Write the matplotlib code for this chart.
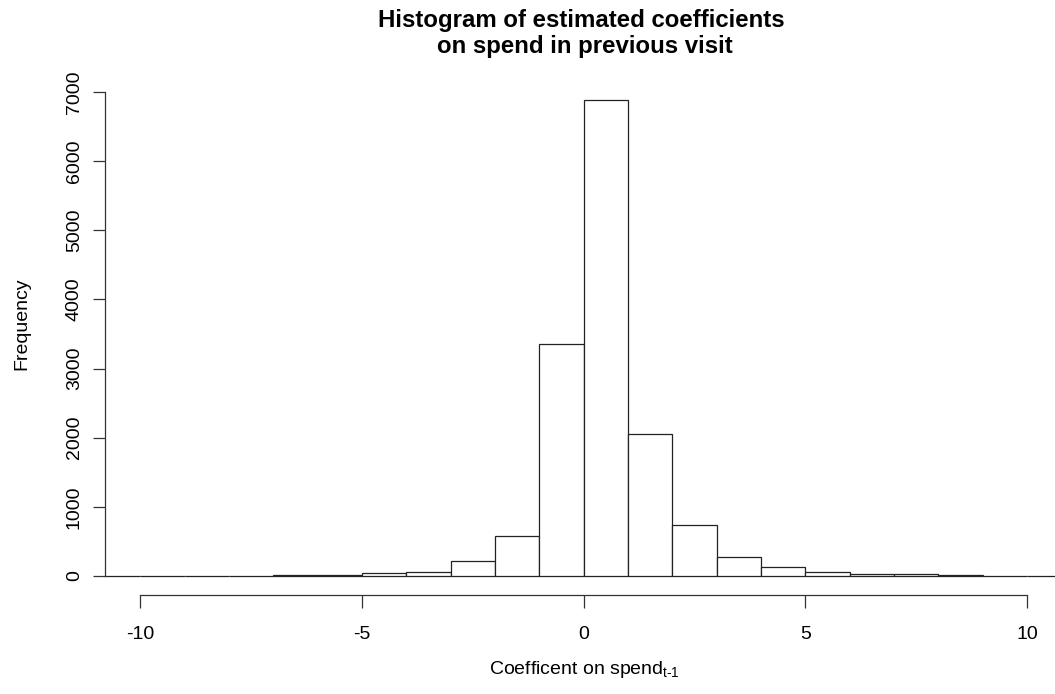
import matplotlib
matplotlib.use("Agg")
import matplotlib.pyplot as plt
import numpy as np

plt.rcParams['font.family'] = ['Liberation Sans', 'DejaVu Sans']
plt.rcParams['mathtext.fontset'] = 'custom'
plt.rcParams['mathtext.rm'] = 'Liberation Sans'
plt.rcParams['mathtext.it'] = 'Liberation Sans'

# histogram bins (width 1) and counts
bin_edges = list(range(-11, 12))
counts = [2, 4, 5, 7, 11, 20, 36, 62, 221, 579, 3356,
          6885, 2054, 742, 279, 135, 62, 33, 24, 10, 6, 4]
x_ticks = [-10, -5, 0, 5, 10]
y_ticks = [0, 1000, 2000, 3000, 4000, 5000, 6000, 7000]

W, H = 1055, 694
fig = plt.figure(figsize=(W / 100, H / 100), dpi=100)
ax = fig.add_axes([105 / W, 1 - 595 / H, (W - 105) / W, (595 - 81) / H])

ax.bar(bin_edges[:-1], counts, width=1, align='edge',
       facecolor='white', edgecolor='#222222', linewidth=0.9)

ax.set_xlim(-10.8, 10.63)
ax.set_ylim(-275, 7160)

for s in ['top', 'right']:
    ax.spines[s].set_visible(False)
ax.spines['left'].set_bounds(0, 7000)
ax.spines['bottom'].set_bounds(-10, 10)
for s in ['left', 'bottom']:
    ax.spines[s].set_linewidth(0.9)
    ax.spines[s].set_color('#333333')

ax.set_xticks(x_ticks)
ax.set_yticks(y_ticks)
ax.set_xticklabels([str(v) for v in x_ticks])
ax.set_yticklabels([str(v) for v in y_ticks], rotation=90, va='center')
ax.tick_params(axis='both', length=9, width=0.9, color='#333333', labelsize=14)
ax.tick_params(axis='x', pad=13)
ax.tick_params(axis='y', pad=7)

fig.text(22 / W, 1 - 324 / H, 'Frequency', rotation=90, ha='center', va='center', fontsize=14)
fig.text(584 / W, 1 - 670 / H, r'Coefficent on spend$_{\mathrm{t}\text{-}\mathrm{1}}$',
         ha='center', va='center', fontsize=14)

fig.text(581 / W, 1 - 21 / H, 'Histogram of estimated coefficients',
         ha='center', va='center', fontsize=17.3, fontweight='bold')
fig.text(585 / W, 1 - 46 / H, 'on spend in previous visit',
         ha='center', va='center', fontsize=17.3, fontweight='bold')

fig.savefig('out.png', dpi=100)
